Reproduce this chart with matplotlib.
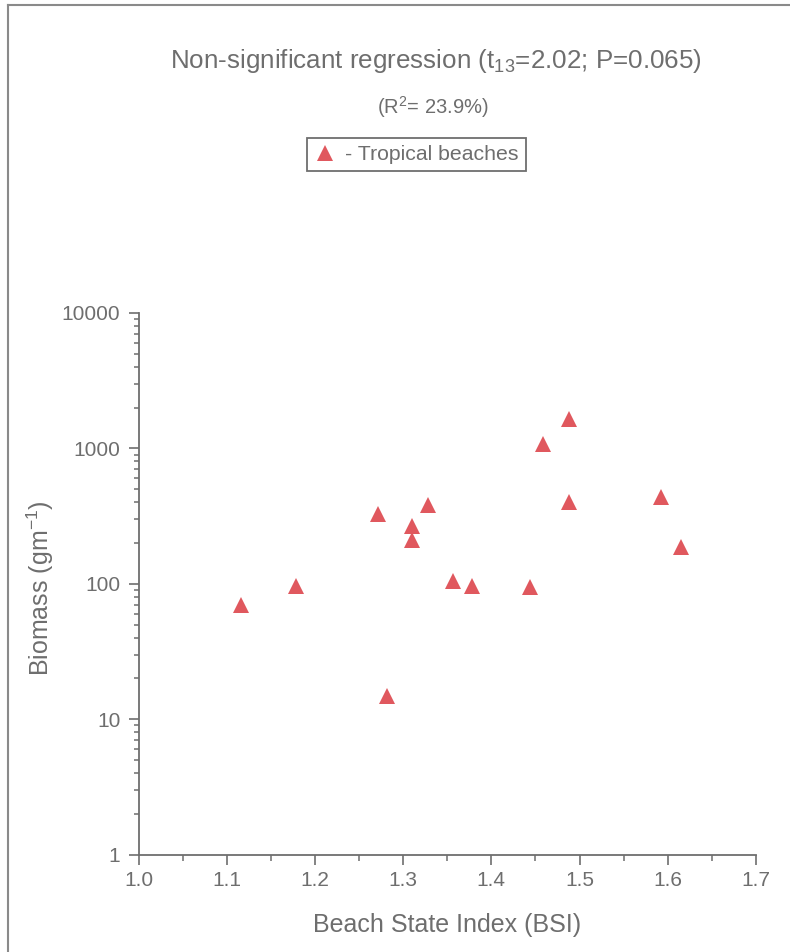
import matplotlib
matplotlib.use("Agg")
import matplotlib.pyplot as plt
from matplotlib.lines import Line2D
from matplotlib.ticker import LogLocator, FixedLocator, NullFormatter

plt.rcParams['font.family'] = ['Liberation Sans', 'DejaVu Sans']
plt.rcParams['mathtext.default'] = 'regular'

# Data
bsi = [1.116, 1.179, 1.272, 1.282, 1.310, 1.310, 1.328, 1.356, 1.378,
       1.444, 1.459, 1.488, 1.488, 1.592, 1.615]
biomass = [70, 97, 329, 14.7, 265, 209, 381, 104, 97,
           94, 1080, 1660, 405, 441, 188]

x_ticks = [1.0, 1.1, 1.2, 1.3, 1.4, 1.5, 1.6, 1.7]
x_tick_labels = ["1.0", "1.1", "1.2", "1.3", "1.4", "1.5", "1.6", "1.7"]
y_ticks = [1, 10, 100, 1000, 10000]
y_tick_labels = ["1", "10", "100", "1000", "10000"]

W, H = 790, 952
fig = plt.figure(figsize=(W / 100, H / 100), dpi=100)
fig.patch.set_facecolor('white')

axc = '#6e6e6e'
txtc = '#6e6e6e'
mcol = '#e0585e'

left, right, bottom, top = 138.5, 756, 854.5, 313
ax = fig.add_axes([left / W, 1 - bottom / H, (right - left) / W, (bottom - top) / H])
ax.set_yscale('log')
ax.set_xlim(1.0, 1.7)
ax.set_ylim(1, 10000)

ax.plot(bsi, biomass, linestyle='none', marker='^', markersize=11,
        color=mcol, markeredgewidth=0, clip_on=False)

for s in ['top', 'right']:
    ax.spines[s].set_visible(False)
for s in ['left', 'bottom']:
    ax.spines[s].set_color(axc)
    ax.spines[s].set_linewidth(1.3)

ax.set_xticks(x_ticks)
ax.set_xticklabels(x_tick_labels)
ax.xaxis.set_minor_locator(FixedLocator([1.05, 1.15, 1.25, 1.35, 1.45, 1.55, 1.65]))
ax.set_yticks(y_ticks)
ax.set_yticklabels(y_tick_labels)
ax.yaxis.set_minor_locator(LogLocator(base=10, subs=range(2, 10)))
ax.yaxis.set_minor_formatter(NullFormatter())

ax.tick_params(axis='both', which='major', direction='out', length=7, width=1.2,
               color=axc, labelcolor=txtc, labelsize=15)
ax.tick_params(axis='x', which='major', pad=5)
ax.tick_params(axis='y', which='major', pad=6)
ax.tick_params(axis='both', which='minor', direction='out', length=3.5, width=1.1,
               color=axc)
ax.tick_params(axis='x', which='minor', length=4.5)

# Labels
fig.text(447 / W, 1 - 925 / H, "Beach State Index (BSI)", ha='center', va='center',
         fontsize=18, color=txtc)
fig.text(40 / W, 1 - 588 / H, "Biomass (gm$^{-1}$)", ha='center', va='center',
         rotation=90, fontsize=18, color=txtc)

# Titles
fig.text(436 / W, 1 - 61 / H, "Non-significant regression (t$_{13}$=2.02; P=0.065)",
         ha='center', va='center', fontsize=18.7, color=txtc)
fig.text(433 / W, 1 - 107 / H, "(R$^{2}$= 23.9%)", ha='center', va='center',
         fontsize=14.5, color=txtc)

# Legend
handle = Line2D([], [], linestyle='none', marker='^', markersize=11,
                color=mcol, markeredgewidth=0)
leg = fig.legend([handle], ["- Tropical beaches"], loc='center',
                 bbox_to_anchor=(416.5 / W, 1 - 154.5 / H), frameon=True,
                 fancybox=False, edgecolor=axc, framealpha=1, fontsize=15.3,
                 handlelength=1.0, handletextpad=0.45, borderpad=0.35,
                 borderaxespad=0)
for t in leg.get_texts():
    t.set_color(txtc)
leg.get_frame().set_linewidth(1.3)

# Page border (top and left lines)
fig.add_artist(Line2D([8 / W, 8 / W], [0, 1 - 5 / H], transform=fig.transFigure,
                      color='#8a8a8a', linewidth=1.5))
fig.add_artist(Line2D([8 / W, 1], [1 - 5 / H, 1 - 5 / H], transform=fig.transFigure,
                      color='#8a8a8a', linewidth=1.5))

fig.savefig('out.png', dpi=100, facecolor='white')
